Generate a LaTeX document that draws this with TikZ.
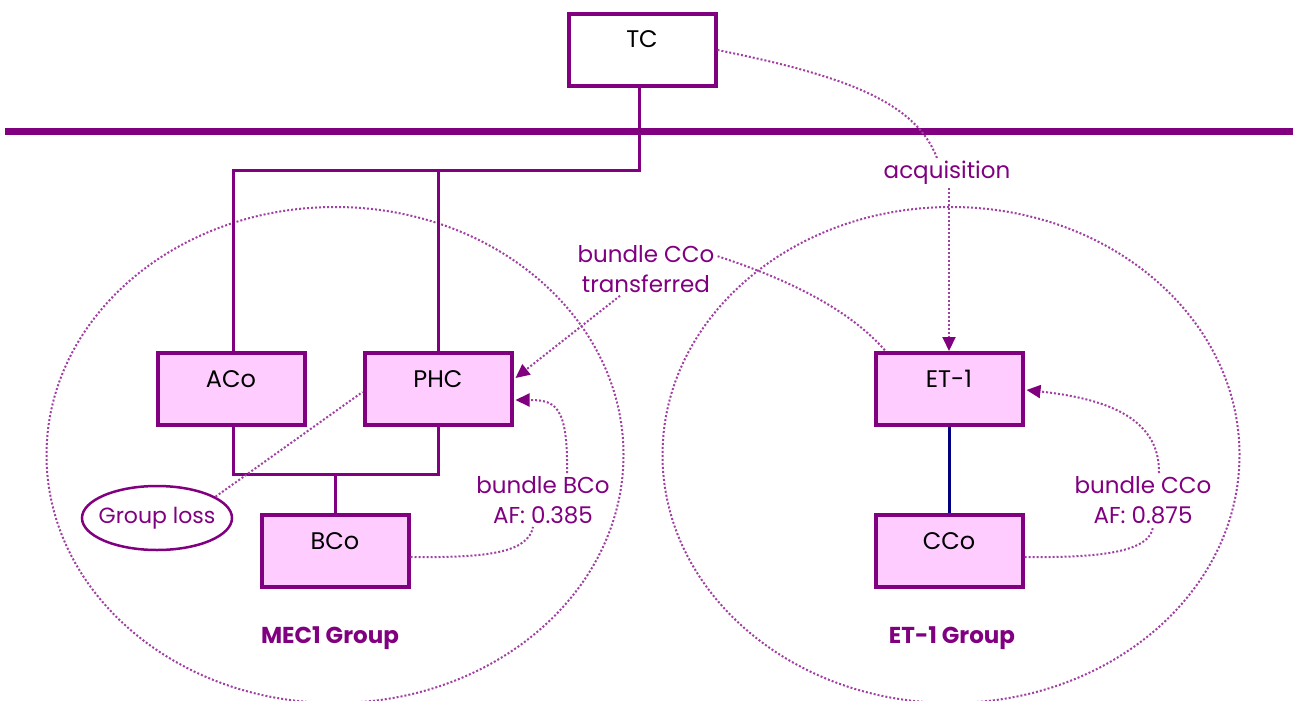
\documentclass[tikz,border=0pt]{standalone}
\usepackage{fontspec}
\setmainfont{Poppins}
\usetikzlibrary{arrows.meta}
\usetikzlibrary{shapes.geometric}
\definecolor{plum}{HTML}{800080}
\definecolor{pinkfill}{HTML}{FFCCFF}
\definecolor{dotline}{HTML}{A040A0}
\definecolor{navyline}{HTML}{000080}

\begin{document}
\begin{tikzpicture}[x=1pt,y=-1pt,
    company/.style = {draw=plum, line width=4pt, fill=pinkfill, minimum width=147pt, inner sep=0pt,
        text height=34pt, text depth=38pt, font=\fontsize{24}{28}\selectfont},
    parent/.style = {company, fill=white},
    tie/.style = {draw=plum, line width=3pt},
    bus/.style = {draw=plum, line width=7pt},
    note/.style = {text=plum, align=center, inner sep=3pt, font=\fontsize{23}{30}\selectfont},
    grouplabel/.style = {text=plum, font=\bfseries\fontsize{23}{28}\selectfont},
    flow/.style = {draw=dotline, line width=2pt, dotted},
    flowarrow/.style = {flow, -{Triangle[length=14pt,width=13pt,color=plum]}},
    boundary/.style = {draw=dotline, line width=2pt, dotted, ellipse, inner sep=0pt,
        minimum width=577pt, minimum height=496pt},
    lossnote/.style = {ellipse, draw=plum, line width=2.5pt, fill=white, text=plum,
        minimum width=150pt, minimum height=64pt, inner xsep=-14pt, inner ysep=0pt,
        font=\fontsize{22}{28}\selectfont}]
    \useasboundingbox (0,0) rectangle (1293,701);

    % the two groups
    \node [boundary] (mecgroup) at (335,455) {};
    \node [boundary] (etgroup) at (951,455) {};
    \node [grouplabel] (meclabel) at (330,638) {MEC1 Group};
    \node [grouplabel] (etlabel) at (952,638) {ET-1 Group};

    \draw [bus] (5,131) -- (1293,131);

    % companies
    \node [parent] (tc) at (642,50) {TC};
    \node [company] (aco) at (231,389) {ACo};
    \node [company] (phc) at (438,389) {PHC};
    \node [company] (bco) at (335,551) {BCo};
    \node [company] (et) at (949,389) {ET-1};
    \node [company] (cco) at (949,551) {CCo};

    \coordinate (split) at (639,170);
    \coordinate (merge) at (335,474);
    \draw [tie] (tc.south -| split) -- (split) -| ([xshift=2pt]aco.north);
    \draw [tie] (split) -| (phc.north);
    \draw [tie] ([xshift=2pt]aco.south) |- (merge) -| (phc.south);
    \draw [tie] (merge) -- (bco.north);
    \draw [line width=3pt, navyline] (et.south) -- (cco.north);

    % notes
    \node [note] (acq) at (947,173) {acquisition};
    \node [note] (xfer) at (646,269) {bundle CCo\\transferred};
    \node [note] (bcoaf) at (543,500) {bundle BCo\\AF: 0.385};
    \node [note] (ccoaf) at (1143,500) {bundle CCo\\AF: 0.875};
    \node [lossnote] (loss) at (157,518) {Group loss};

    \draw [flow] (tc.east) .. controls (840,75) and (915,100) .. ([xshift=-10pt]acq.north);
    \draw [flowarrow] (acq.south -| et.north) -- (et.north);
    \draw [flow] ([yshift=-14pt]xfer.north east) .. controls (790,280) and (850,310) .. ([xshift=12pt]et.north west);
    \draw [flowarrow] ([xshift=-26pt]xfer.south) -- ([xshift=2pt,yshift=11pt]phc.east);
    \draw [flow] ([yshift=-6pt]bco.east) .. controls (490,558) and (528,552) .. ([xshift=-10pt]bcoaf.south);
    \draw [flowarrow] ([xshift=24pt]bcoaf.north) .. controls (568,405) and (555,400) .. ([xshift=2pt,yshift=-11pt]phc.east);
    \draw [flow] ([yshift=-6pt]cco.east) .. controls (1100,558) and (1150,552) .. ([xshift=10pt]ccoaf.south);
    \draw [flowarrow] ([xshift=16pt]ccoaf.north) .. controls (1160,415) and (1100,398) .. ([xshift=2pt,yshift=-1pt]et.east);
    \draw [flow] (loss.20) -- ([yshift=-3pt]phc.west);
\end{tikzpicture}
\end{document}
